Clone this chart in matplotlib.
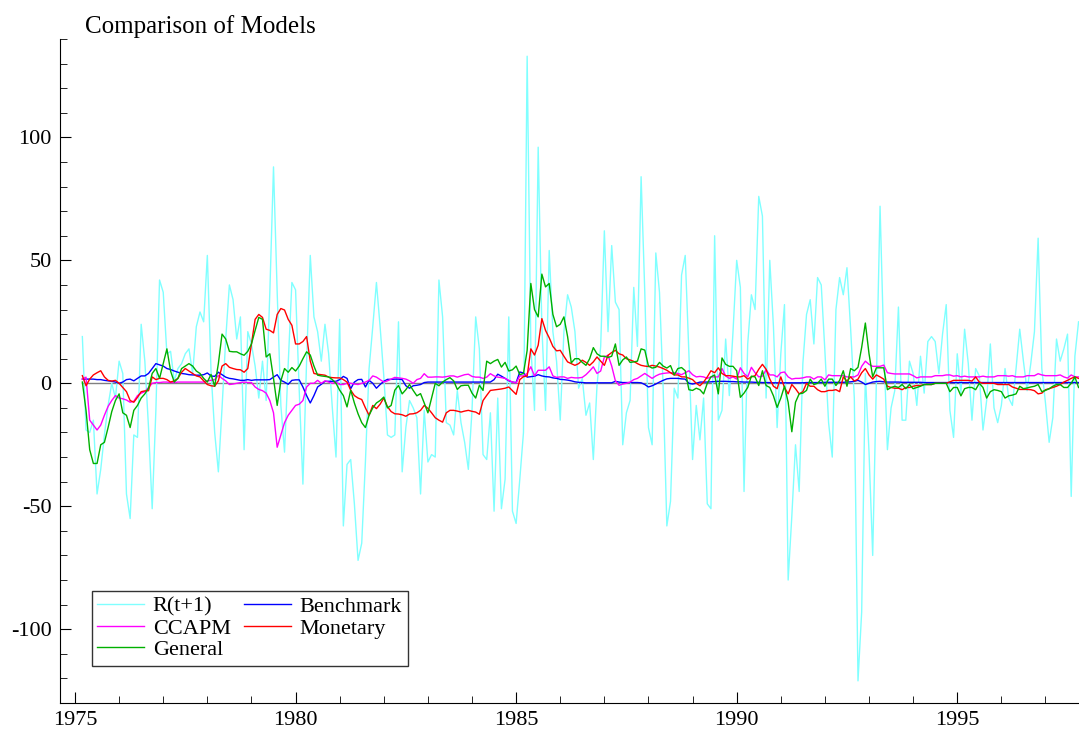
import matplotlib
matplotlib.use("Agg")
import matplotlib.pyplot as plt
import numpy as np
from matplotlib.ticker import MultipleLocator

plt.rcParams['font.family'] = ['Liberation Serif', 'DejaVu Serif']
plt.rcParams['axes.unicode_minus'] = False

# monthly observations, 1975:3 to 1997:10
start_year, start_month, n_obs = 1975, 3, 272
t = start_year + (start_month - 1 + np.arange(n_obs)) / 12.0

r_next = [
    19, -19, -20, -15, -45, -35, -21, -9, 0, -6,
    9, 4, -45, -55, -21, -22, 24, 9, -18, -51,
    -11, 42, 37, 12, 13, 1, 6, 8, 12, 14,
    4, 23, 29, 25, 52, 5, -20, -36, -10, 18,
    40, 34, 18, 27, -27, 21, 16, 7, -6, 9,
    -7, 37, 88, 37, -9, -28, 8, 41, 38, -3,
    -41, 9, 52, 27, 21, 9, 24, 12, -10, -30,
    26, -58, -33, -31, -49, -72, -65, -32, 6, 23,
    41, 23, 3, -21, -22, -21, 25, -36, -18, -7,
    -10, -14, -45, -11, -32, -29, -30, 42, 27, -16,
    -17, -21, -3, -16, -24, -35, -11, 27, 14, -29,
    -31, -12, -52, -6, -51, -39, 27, -52, -57, -39,
    -20, 133, 15, -11, 96, 23, -11, 54, 21, 9,
    -15, 21, 36, 31, 21, -2, 2, -13, -8, -31,
    -1, 15, 62, 21, 56, 33, 30, -25, -12, -7,
    39, 15, 84, 37, -18, -25, 53, 37, -2, -58,
    -48, -2, -6, 44, 52, 12, -31, -9, -23, -6,
    -49, -51, 60, -15, -11, 18, -5, 21, 50, 39,
    -44, 16, 36, 30, 76, 68, -6, 50, 23, -18,
    12, 32, -80, -54, -25, -44, 8, 28, 34, 16,
    43, 40, 13, -16, -30, 30, 43, 36, 47, 22,
    -6, -121, -93, 4, -28, -70, 2, 72, 16, -27,
    -10, -3, 31, -15, -15, 9, 4, -9, 11, -4,
    17, 19, 17, 4, 20, 32, -11, -22, 12, -4,
    22, 8, -15, 6, 3, -19, -7, 16, -10, -16,
    -9, 6, -6, -9, 6, 22, 9, -3, 8, 21,
    59, 6, -8, -24, -14, 18, 9, 14, 20, -46,
    11, 25,
]

benchmark = [
    1.7, 1.7, 1.7, 1.7, 1.5, 1.5, 1.2, 1.0, 0.8, 0.5,
    0.0, 0.5, 1.5, 1.7, 1.0, 2.0, 3.0, 3.0, 4.0, 6.0,
    8.0, 7.5, 7.0, 6.0, 5.6, 5.0, 4.5, 4.0, 3.8, 3.5,
    3.4, 3.3, 3.3, 3.5, 4.2, 3.0, 2.8, 4.5, 3.5, 2.5,
    2.0, 1.8, 1.5, 1.2, 1.2, 1.5, 1.2, 1.4, 1.4, 1.4,
    1.4, 1.5, 2.5, 3.5, 1.2, 0.5, -0.4, 1.2, 1.4, 1.4,
    -1.5, -5.0, -8.0, -5.0, -1.5, -0.4, 0.8, 0.8, 0.8, 0.8,
    1.5, 2.8, 2.0, -2.2, 0.5, 1.5, 1.6, -1.5, 1.2, 0.0,
    -2.0, -0.5, 0.8, 1.6, 1.6, 1.7, 1.7, 1.5, -1.0, -2.0,
    -1.0, -0.8, -0.5, 0.3, 0.5, 0.5, 0.5, 0.5, 0.5, 0.5,
    0.5, 0.5, 0.5, 0.5, 0.5, 0.5, 0.5, 0.5, 0.5, 0.5,
    0.5, 0.5, 1.5, 3.7, 2.9, 2.0, 1.0, 0.5, 0.3, 4.6,
    4.2, 2.5, 2.7, 2.9, 3.5, 3.0, 2.7, 2.6, 2.2, 2.0,
    1.6, 1.5, 1.3, 1.0, 0.6, 0.4, 0.3, 0.2, 0.2, 0.2,
    0.2, 0.2, 0.2, 0.2, 0.2, 0.8, 0.5, 0.3, 0.3, 0.3,
    0.3, 0.3, 0.2, -0.5, -1.5, -1.0, -0.3, 0.5, 1.2, 1.8,
    2.0, 2.0, 2.0, 1.8, 1.7, 0.0, -0.3, 0.0, 0.5, 0.5,
    0.5, 0.6, 0.7, 0.8, 0.8, 0.8, 0.7, 0.7, 0.6, 0.6,
    0.5, 0.5, 0.5, 0.4, 0.4, 0.3, 0.3, 0.3, 0.2, 0.2,
    0.2, 0.2, 0.2, 0.2, 0.2, 0.2, 0.2, 0.3, 0.3, 0.3,
    0.3, 0.3, 0.4, 0.4, 0.4, 0.4, 0.4, 0.4, 0.5, 0.6,
    0.8, 1.2, 0.5, -0.5, 0.0, 0.5, 0.7, 0.8, 0.6, 0.5,
    0.5, 0.5, 0.5, 0.4, 0.4, 0.4, 0.4, 0.4, 0.4, 0.3,
    0.3, 0.3, 0.3, 0.3, 0.3, 0.3, 0.3, 0.3, 0.3, 0.3,
    0.3, 0.3, 0.3, 0.3, 0.3, 0.3, 0.3, 0.3, 0.3, 0.3,
    0.3, 0.3, 0.3, 0.3, 0.3, 0.3, 0.3, 0.3, 0.3, 0.3,
    0.3, 0.3, 0.3, 0.3, 0.3, 0.3, 0.3, 0.3, 0.3, 0.3,
    0.3, 0.3,
]

ccapm = [
    1.7, 2.5, -15.0, -17.0, -19.0, -17.0, -13.0, -9.4, -7.0, -5.0,
    -6.0, -6.3, -6.8, -7.7, -7.3, -5.0, -4.0, -3.4, -1.7, 0.0,
    0.3, 0.3, 0.5, 0.5, 0.3, 0.3, 0.5, 0.5, 0.5, 0.5,
    0.5, 0.5, 0.5, 0.5, 1.0, 1.2, 1.5, 3.2, 2.0, 1.0,
    -0.5, -0.3, 0.0, 0.3, 0.5, 0.3, 0.3, -1.5, -2.5, -3.0,
    -4.0, -7.0, -12.0, -26.0, -21.0, -16.0, -13.0, -11.0, -9.0, -8.5,
    -7.0, -1.5, 0.0, 0.0, 1.2, 0.0, 1.0, 0.5, 0.0, 0.5,
    -0.5, -0.5, 0.0, 0.0, -0.3, -0.5, 0.0, 0.5, 1.2, 3.0,
    2.5, 1.5, 0.5, 1.0, 1.7, 2.4, 2.2, 2.0, 1.7, 1.0,
    0.0, 1.5, 2.0, 3.9, 2.5, 2.5, 2.6, 2.6, 2.5, 2.7,
    3.0, 3.0, 2.5, 3.0, 3.5, 3.7, 2.8, 2.5, 2.5, 2.0,
    2.5, 3.9, 3.0, 2.5, 2.3, 2.0, 1.2, 0.5, 0.1, 3.0,
    3.0, 4.0, 6.7, 3.0, 5.3, 5.3, 5.3, 6.7, 3.0, 2.4,
    2.6, 2.6, 2.0, 2.4, 2.2, 2.2, 2.4, 3.5, 5.0, 6.7,
    4.0, 5.0, 10.7, 11.4, 7.0, 1.0, -0.8, -0.3, 0.0, 0.5,
    1.5, 2.0, 3.0, 4.0, 3.0, 2.0, 3.0, 3.7, 4.0, 4.2,
    4.3, 4.3, 4.0, 3.5, 4.3, 5.1, 3.5, 2.6, 2.8, 2.6,
    2.0, 2.6, 2.6, 2.6, 6.0, 3.0, 2.0, 2.6, 1.7, 6.3,
    4.0, 2.6, 6.5, 4.3, 2.6, 2.9, 5.5, 3.4, 3.4, 2.6,
    4.3, 4.6, 2.6, 1.7, 2.0, 2.0, 2.2, 2.6, 2.6, 1.7,
    2.6, 2.6, 1.4, 3.4, 3.1, 3.1, 3.1, 3.1, 2.6, 2.6,
    2.6, 3.4, 6.9, 9.0, 7.7, 6.9, 6.9, 6.9, 7.4, 4.3,
    4.0, 3.8, 3.8, 3.8, 3.8, 3.8, 3.1, 2.2, 2.6, 2.6,
    2.6, 2.6, 3.1, 3.1, 3.1, 3.4, 3.4, 2.9, 3.1, 2.6,
    2.9, 2.6, 2.6, 2.6, 2.6, 2.9, 2.6, 2.6, 2.6, 3.1,
    3.1, 3.1, 2.9, 3.1, 2.6, 2.6, 2.6, 3.1, 3.1, 3.1,
    3.9, 3.4, 3.1, 3.1, 3.1, 3.1, 3.4, 2.6, 2.1, 3.4,
    2.6, 2.6,
]

monetary = [
    3.1, -1.0, 1.7, 3.4, 4.3, 5.1, 2.6, 1.2, 0.9, 1.2,
    0.0, -1.7, -3.4, -7.0, -7.7, -5.7, -3.4, -3.1, -3.0, 2.6,
    1.5, 2.0, 2.0, 1.5, 0.5, 1.0, 2.0, 4.5, 6.0, 5.0,
    4.0, 3.0, 2.6, 1.0, -0.5, -1.0, -1.2, 1.0, 7.0, 8.0,
    6.5, 6.0, 5.6, 5.5, 4.5, 6.0, 16.0, 26.0, 28.0, 26.8,
    22.0, 21.5, 20.5, 28.0, 30.4, 29.8, 26.0, 23.6, 16.0, 16.0,
    17.0, 19.0, 9.0, 4.0, 3.7, 3.5, 3.3, 2.5, 2.3, 2.2,
    2.2, 1.5, 0.5, -2.8, -5.0, -6.0, -6.6, -10.0, -13.0, -9.0,
    -10.3, -8.5, -6.0, -9.5, -11.5, -12.4, -12.5, -12.8, -13.4, -12.5,
    -12.4, -12.0, -11.0, -9.0, -10.2, -12.0, -14.0, -15.0, -15.8, -12.0,
    -11.0, -11.0, -11.3, -11.7, -11.3, -11.0, -11.4, -11.7, -12.6, -7.0,
    -4.9, -2.9, -2.7, -2.5, -2.3, -2.0, -1.5, -3.0, -4.5, 1.5,
    2.7, 2.9, 14.0, 11.5, 15.5, 26.3, 21.5, 18.5, 15.0, 13.2,
    13.4, 11.0, 8.7, 8.0, 7.3, 8.0, 9.4, 8.5, 7.3, 8.7,
    10.7, 9.0, 7.3, 11.4, 12.5, 13.4, 12.0, 11.5, 10.0, 9.5,
    8.9, 8.0, 7.3, 7.0, 6.8, 7.3, 7.0, 6.6, 6.0, 5.3,
    4.3, 3.4, 3.4, 2.6, 2.6, 2.1, 1.5, 0.0, -1.0, 0.5,
    2.6, 5.1, 4.3, 6.3, 4.0, 3.1, 3.1, 2.9, 2.6, 2.6,
    3.1, 1.7, 2.6, 3.1, 5.7, 7.7, 5.7, 1.7, -1.2, -2.2,
    2.6, -1.7, -4.3, -0.5, -2.2, -4.3, -3.4, 0.0, -1.2, -1.2,
    -2.6, -3.4, -3.4, -2.9, -2.9, -2.6, -3.4, 2.6, 0.9, 2.6,
    0.9, 1.7, 4.3, 6.0, 3.4, 1.7, 3.4, 2.6, 1.7, -1.2,
    -1.7, -2.0, -2.0, -2.6, -1.7, -1.7, -1.2, -0.9, -0.9, -0.5,
    -0.5, -0.5, 0.0, 0.0, 0.0, 0.0, 0.6, 1.2, 1.2, 1.2,
    1.2, 1.2, 0.9, 2.6, 0.5, 0.0, 0.0, 0.0, 0.0, -0.5,
    -0.5, -0.5, -0.5, -1.5, -2.0, -2.5, -2.5, -2.5, -2.6, -3.0,
    -4.3, -4.0, -2.6, -2.2, -1.7, -1.2, -0.5, 0.5, 1.2, 2.0,
    2.6, 2.0,
]

general = [
    0.5, -11.0, -27.0, -32.6, -32.6, -25.0, -24.0, -18.0, -11.5, -7.0,
    -4.3, -12.0, -13.0, -18.0, -11.0, -9.0, -6.0, -4.3, -2.0, 4.0,
    6.0, 2.0, 8.0, 14.0, 5.0, 0.5, 2.0, 6.0, 7.0, 8.0,
    7.0, 5.0, 4.0, 2.0, 0.5, 3.6, -1.2, 8.0, 20.0, 18.0,
    13.0, 12.8, 12.8, 12.0, 11.4, 13.0, 16.0, 21.5, 26.8, 26.0,
    10.7, 12.0, 2.0, -9.0, 1.0, 6.0, 4.5, 6.4, 5.0, 7.0,
    10.0, 12.8, 11.5, 7.0, 3.3, 3.0, 2.8, 2.6, 1.5, 0.0,
    -2.8, -5.0, -9.6, -2.8, -8.0, -12.4, -16.0, -18.0, -13.0, -10.0,
    -8.0, -7.0, -5.6, -10.0, -9.0, -2.8, -0.9, -4.3, -2.6, -0.5,
    -2.9, -5.1, -4.2, -8.0, -12.0, -6.0, 0.0, -1.0, 0.5, 1.5,
    2.3, 1.0, -2.5, -1.0, -0.8, -0.8, -4.0, -6.0, -0.8, -2.9,
    9.0, 8.0, 9.0, 9.7, 6.6, 8.5, 5.0, 5.5, 7.0, 3.5,
    4.0, 13.4, 40.6, 30.0, 27.0, 44.4, 39.2, 40.6, 28.0, 23.0,
    24.0, 27.0, 19.0, 8.3, 10.0, 10.0, 8.5, 7.3, 10.0, 14.5,
    12.0, 11.0, 11.0, 10.5, 11.0, 16.0, 7.3, 9.5, 10.7, 8.5,
    8.7, 9.0, 14.0, 13.5, 7.0, 6.2, 6.5, 8.5, 7.0, 6.2,
    7.2, 3.4, 6.0, 6.4, 5.1, -2.6, -2.9, -2.0, -2.6, -4.3,
    0.0, 2.6, 3.4, -4.3, 10.3, 7.7, 6.9, 6.9, 5.1, -5.7,
    -4.0, -1.7, 2.9, 2.6, -0.9, 5.1, -0.9, -1.7, -5.1, -9.8,
    -6.0, -1.2, -7.7, -19.7, -7.7, -4.3, -4.0, -2.9, 1.7, -0.5,
    0.0, 1.7, -1.2, 1.7, 1.7, -0.9, 1.2, 5.1, -1.2, 6.0,
    5.1, 6.5, 14.6, 24.5, 12.0, 2.6, 6.3, 6.3, 6.3, -2.6,
    -1.7, -1.2, -1.7, -0.5, -2.2, -0.5, -2.2, -1.7, -1.2, -0.5,
    -0.5, -0.5, 0.0, 0.0, 0.0, 0.0, -3.4, -1.7, -1.7, -5.1,
    -2.2, -1.7, -1.7, -2.6, 0.0, -1.7, -6.0, -3.4, -2.6, -2.9,
    -3.4, -6.0, -5.1, -4.8, -4.3, -1.2, -2.2, -1.9, -1.5, -1.2,
    -0.5, -3.4, -2.9, -2.2, -1.2, -0.5, -0.5, -1.7, -1.7, 0.0,
    2.6, -1.7,
]

fig = plt.figure(figsize=(10.79, 7.31), dpi=100)
ax = fig.add_axes([60 / 1079, 28 / 731, 1019 / 1079, 664 / 731])

ax.plot([t[0], t[-1]], [0, 0], color="#808080", lw=1.0)  # zero line
l_r, = ax.plot(t, r_next, color="#80ffff", lw=1.0, label="R(t+1)")
l_b, = ax.plot(t, benchmark, color="#0000ff", lw=1.0, label="Benchmark")
l_c, = ax.plot(t, ccapm, color="#ff00ff", lw=1.0, label="CCAPM")
l_m, = ax.plot(t, monetary, color="#ff0000", lw=1.0, label="Monetary")
l_g, = ax.plot(t, general, color="#00b000", lw=1.0, label="General")

ax.set_xlim(1974.66, 1997.76)
ax.set_ylim(-130, 140)

for s in ["top", "right"]:
    ax.spines[s].set_visible(False)
ax.xaxis.set_major_locator(MultipleLocator(5))
ax.xaxis.set_minor_locator(MultipleLocator(1))
ax.yaxis.set_major_locator(MultipleLocator(50))
ax.yaxis.set_minor_locator(MultipleLocator(10))
ax.tick_params(which="both", direction="in", labelsize=16, pad=6)
ax.tick_params(which="major", length=8)
ax.tick_params(which="minor", length=5)

# legend is filled row by row in the original, so pass handles column-wise
leg = ax.legend(handles=[l_r, l_c, l_g, l_b, l_m], ncol=2, loc="lower left",
                bbox_to_anchor=(0.031, 0.056), borderaxespad=0, fontsize=16,
                frameon=True, fancybox=False, handlelength=2.1,
                handletextpad=0.4, labelspacing=0.05, columnspacing=0.6,
                borderpad=0.25)
leg.get_frame().set_edgecolor("black")
leg.get_frame().set_linewidth(1.0)

fig.text(85 / 1079, 1 - 33 / 731, "Comparison of Models", fontsize=18, va="baseline")

fig.savefig("out.png", dpi=100)
